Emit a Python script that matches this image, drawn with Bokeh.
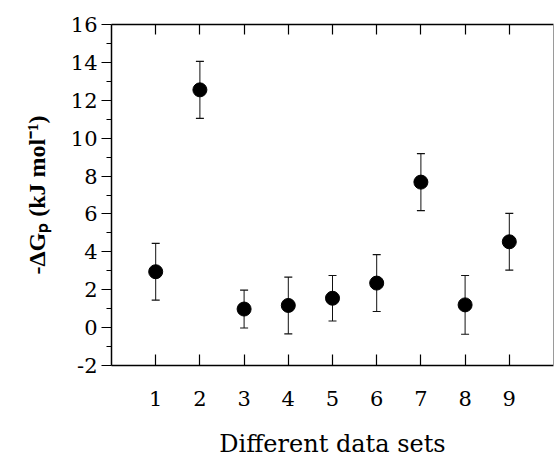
from bokeh.plotting import figure
from bokeh.models import (ColumnDataSource, Whisker, TeeHead, FixedTicker,
                          LinearAxis, Range1d, CustomLabelingPolicy)
from bokeh.embed import file_html
from bokeh.resources import INLINE

# ---- data ----
datasets = [1, 2, 3, 4, 5, 6, 7, 8, 9]
neg_dg = [2.95, 12.55, 0.98, 1.17, 1.55, 2.35, 7.68, 1.2, 4.53]
err = [1.5, 1.5, 1.0, 1.5, 1.2, 1.5, 1.5, 1.55, 1.5]
y_ticks = [-2, 0, 2, 4, 6, 8, 10, 12, 14, 16]
y_tick_labels = ["-2", "0", "2", "4", "6", "8", "10", "12", "14", "16"]
y_minor = [-1, 1, 3, 5, 7, 9, 11, 13, 15]
x_ticks = [1, 2, 3, 4, 5, 6, 7, 8, 9]

src = ColumnDataSource(dict(
    x=datasets,
    y=neg_dg,
    lower=[v - e for v, e in zip(neg_dg, err)],
    upper=[v + e for v, e in zip(neg_dg, err)],
))

SERIF = "DejaVu Serif"
HIDE_ALL = CustomLabelingPolicy(code="""
for (const i of indices)
    indices.unset(i)
return indices
""")

p = figure(width=554, height=460, output_backend="svg", toolbar_location=None,
           x_range=Range1d(0, 10), y_range=Range1d(-2, 16),
           min_border_left=111, min_border_right=1, min_border_top=24,
           min_border_bottom=94, x_axis_location=None, y_axis_location=None)
p.outline_line_color = None
p.xgrid.visible = False
p.ygrid.visible = False
p.background_fill_color = "white"
p.border_fill_color = "white"

# left axis
yax = LinearAxis(ticker=FixedTicker(ticks=y_ticks, minor_ticks=y_minor),
                 axis_label="-ΔGₚ (kJ mol⁻¹)")
yax.major_label_overrides = {t: s for t, s in zip(y_ticks, y_tick_labels)}
yax.axis_line_color = "black"
yax.axis_line_width = 1.5
yax.major_tick_out = 10
yax.major_tick_in = 0
yax.minor_tick_out = 5
yax.minor_tick_in = 0
yax.major_tick_line_width = 1.2
yax.minor_tick_line_width = 1.2
yax.major_label_standoff = 4
yax.major_label_text_font = SERIF
yax.major_label_text_font_size = "21px"
yax.major_label_text_color = "black"
yax.axis_label_text_font = "Liberation Serif"
yax.axis_label_text_font_style = "bold"
yax.axis_label_text_font_size = "24px"
yax.axis_label_text_color = "black"
yax.axis_label_standoff = 18
p.add_layout(yax, "left")

# bottom axis
xax = LinearAxis(ticker=FixedTicker(ticks=x_ticks, minor_ticks=[]),
                 axis_label="Different data sets")
xax.axis_line_color = "black"
xax.axis_line_width = 1.5
xax.major_tick_in = 11
xax.major_tick_out = 0
xax.major_tick_line_width = 1.2
xax.minor_tick_in = 0
xax.minor_tick_out = 0
xax.major_label_standoff = 25
xax.major_label_text_font = SERIF
xax.major_label_text_font_size = "21px"
xax.major_label_text_color = "black"
xax.axis_label_text_font = SERIF
xax.axis_label_text_font_style = "normal"
xax.axis_label_text_font_size = "24px"
xax.axis_label_text_color = "black"
xax.axis_label_standoff = 21
p.add_layout(xax, "below")

# top axis (ticks only)
tax = LinearAxis(ticker=FixedTicker(ticks=x_ticks, minor_ticks=[]),
                 major_label_policy=HIDE_ALL)
tax.axis_line_color = "black"
tax.axis_line_width = 1.5
tax.major_tick_in = 10
tax.major_tick_out = 0
tax.major_tick_line_width = 1.2
tax.minor_tick_in = 0
tax.minor_tick_out = 0
tax.major_label_text_font_size = "2px"
tax.major_label_standoff = 0
p.add_layout(tax, "above")

# right axis (faint scanned line)
rax = LinearAxis(ticker=FixedTicker(ticks=[], minor_ticks=[]),
                 major_label_policy=HIDE_ALL)
rax.axis_line_color = "#9a9a9a"
rax.axis_line_width = 1
rax.major_tick_in = 0
rax.major_tick_out = 0
rax.minor_tick_in = 0
rax.minor_tick_out = 0
rax.major_label_text_font_size = "2px"
rax.major_label_standoff = 0
p.add_layout(rax, "right")

# error bars
wk = Whisker(base="x", lower="lower", upper="upper", source=src,
             line_color="#111111", line_width=1,
             upper_head=TeeHead(size=8, line_color="#111111", line_width=1.2),
             lower_head=TeeHead(size=8, line_color="#111111", line_width=1.2))
p.add_layout(wk)

# points
p.scatter("x", "y", source=src, size=14, fill_color="black", line_color="black")

open("out.html", "w").write(file_html(p, INLINE))
